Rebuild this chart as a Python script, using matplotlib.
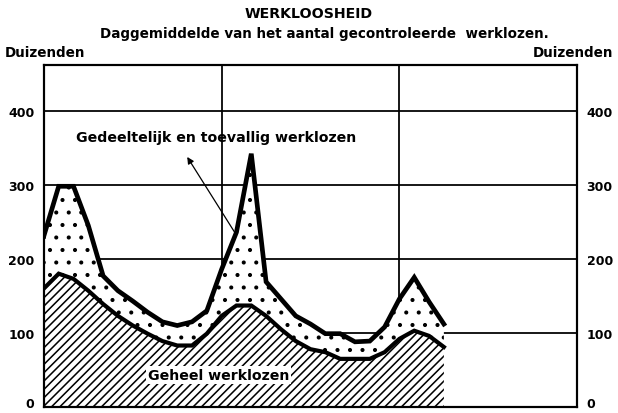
import matplotlib.pyplot as plt
import numpy as np

# maandgemiddelden, duizenden (3 jaar, per maand)
maanden = np.arange(28)
totaal = [231, 298, 298, 245, 177, 157, 143, 128, 115, 110, 115, 130,
          186, 236, 342, 169, 146, 123, 112, 99, 99, 88, 89, 108,
          146, 175, 142, 112]
geheel = [160, 180, 173, 157, 139, 123, 110, 99, 89, 83, 83, 99,
          123, 137, 137, 123, 105, 89, 78, 74, 65, 65, 65, 74,
          92, 103, 96, 81]
yticks = [0, 100, 200, 300, 400]
jaargrenzen = [12, 24]

# dpi 75 zodat de arcering dichter valt
plt.rcParams['hatch.linewidth'] = 1.5
fig = plt.figure(figsize=(8.24, 5.52), dpi=75)
ax = fig.add_axes([0.071, 0.0145, 0.863, 0.8265])

# gearceerd deel: geheel werklozen
ax.fill_between(maanden, 0, geheel, facecolor='white', edgecolor='black',
                hatch='///', linewidth=0)
# gestippeld deel: gedeeltelijk en toevallig werklozen
ax.fill_between(maanden, geheel, totaal, facecolor='white', edgecolor='black',
                hatch='.', linewidth=0)
ax.plot(maanden, totaal, color='black', linewidth=4.5, solid_joinstyle='miter')
ax.plot(maanden, geheel, color='black', linewidth=4.0, solid_joinstyle='miter')

for y in yticks[1:]:
    ax.axhline(y, color='black', linewidth=1.7, zorder=0.5)
for x in jaargrenzen:
    ax.axvline(x, color='black', linewidth=1.7, zorder=0.5)

ax.set_xlim(0, 36)
ax.set_ylim(0, 462)
ax.set_xticks([])
ax.set_yticks(yticks)
ax.tick_params(axis='y', length=0, labelsize=12, pad=9, labelright=True)
for tick in ax.yaxis.get_major_ticks():
    tick.label1.set_fontweight('bold')
    tick.label2.set_fontweight('bold')
# "0" zit op de onderrand
ax.yaxis.get_major_ticks()[0].label1.set_va('baseline')
ax.yaxis.get_major_ticks()[0].label2.set_va('baseline')
for s in ax.spines.values():
    s.set_linewidth(2.1)

ax.annotate('', xy=(9.6, 340), xytext=(13.0, 232),
            arrowprops=dict(arrowstyle='-|>', color='black', lw=1.2,
                            mutation_scale=13))
ax.text(11.6, 365, 'Gedeeltelijk en toevallig werklozen', ha='center',
        va='center', fontsize=13.5, fontweight='bold')
ax.text(11.8, 43, 'Geheel werklozen', ha='center', va='center', fontsize=13.5,
        fontweight='bold',
        bbox=dict(facecolor='white', edgecolor='none', pad=2))

fig.text(0.5, 0.965, 'WERKLOOSHEID', ha='center', va='center', fontsize=13.5,
         fontweight='bold')
fig.text(0.525, 0.918, 'Daggemiddelde van het aantal gecontroleerde  werklozen.',
         ha='center', va='center', fontsize=13, fontweight='bold')
fig.text(0.008, 0.872, 'Duizenden', ha='left', va='center', fontsize=13,
         fontweight='bold')
fig.text(0.992, 0.872, 'Duizenden', ha='right', va='center', fontsize=13,
         fontweight='bold')

fig.savefig('out.png', dpi=75)
